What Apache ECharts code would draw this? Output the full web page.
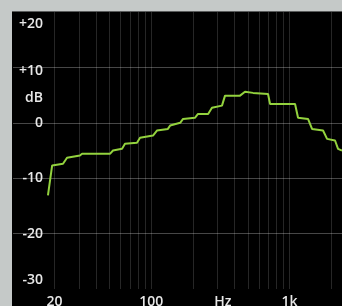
<!DOCTYPE html>
<html lang="en">
<head>
<meta charset="utf-8">
<title>EQ curve</title>
<script src="https://cdn.jsdelivr.net/npm/echarts@6/dist/echarts.min.js"></script>
<style>
  html, body { margin: 0; padding: 0; background: #c5c9c8; }
</style>
</head>
<body>
<div id="main" style="width:342px;height:306px;"></div>
<script type="text/javascript">
    // response curve (Hz, dB)
    var freqs = [17.9, 19.2, 23, 24.6, 30.5, 31.6, 50.3, 52.9, 61.5, 64.6,
                 78.9, 83, 103, 110, 132, 137, 162, 170, 207, 218,
                 258, 275, 325, 342, 439, 477, 545, 700, 724, 1098,
                 1154, 1363, 1457, 1750, 1871, 2137, 2247, 2400];
    var gains = [-13.1, -7.7, -7.4, -6.3, -5.9, -5.6, -5.6, -5.0, -4.7, -3.8,
                 -3.6, -2.7, -2.3, -1.4, -1.1, -0.5, 0, 0.7, 0.9, 1.6,
                 1.6, 2.7, 3.1, 4.9, 4.9, 5.6, 5.4, 5.2, 3.4, 3.4,
                 0.9, 0.7, -1.1, -1.4, -2.9, -3.2, -4.7, -5.0];

    // grid lines
    var gridFreqs = [20, 30, 40, 50, 60, 70, 80, 90, 100, 200, 300, 400, 500, 600, 700, 800, 900, 1000, 2000];
    var gridDb = [-20, -10, 0, 10];

    // tick labels
    var xLabelFreqs = [20, 100, 330, 1000];
    var xLabelTexts = ['20', '100', 'Hz', '1k'];
    var yLabelVals = [-30, -20, -10, 0, 4.5, 10, 20];
    var yLabelTexts = ['{up|-30}', '-20', '-10', '0', 'dB', '{s|+10}', '{dn|+20}'];

    var fMin = 10, fMax = 2400;
    function lg(v) { return Math.log(v) / Math.LN10; }

    var pts = [];
    for (var i = 0; i < freqs.length; i++) {
        pts.push([lg(freqs[i]), gains[i]]);
    }

    var labelFont = { color: '#e8e8e8', fontFamily: 'Open Sans', fontSize: 14, fontWeight: 600 };

    var myChart = echarts.init(document.getElementById('main'));
    var option = {
        backgroundColor: '#000',
        animation: false,
        graphic: [
            { type: 'rect', left: 0, top: 0, shape: { width: 342, height: 11 }, style: { fill: '#c5c9c8' }, z: 100 },
            { type: 'rect', left: 0, top: 11, shape: { width: 342, height: 1 }, style: { fill: '#5a5c5c' }, z: 100 },
            { type: 'rect', left: 0, top: 0, shape: { width: 12, height: 306 }, style: { fill: '#c5c9c8' }, z: 100 }
        ],
        grid: {
            left: 13, right: 0, top: 12, bottom: 17,
            outerBoundsMode: 'none',
            containLabel: false
        },
        xAxis: {
            type: 'value',
            min: lg(fMin),
            max: lg(fMax),
            axisLine: { show: false },
            axisTick: { show: false, customValues: gridFreqs.map(lg) },
            splitLine: { show: true, lineStyle: { color: 'rgba(255,255,255,0.15)', width: 1 } },
            axisLabel: {
                customValues: xLabelFreqs.map(lg),
                margin: 6,
                verticalAlign: 'top',
                color: labelFont.color,
                fontFamily: labelFont.fontFamily,
                fontSize: labelFont.fontSize,
                fontWeight: labelFont.fontWeight,
                formatter: function (v) {
                    for (var k = 0; k < xLabelFreqs.length; k++) {
                        if (Math.abs(lg(xLabelFreqs[k]) - v) < 1e-6) return xLabelTexts[k];
                    }
                    return '';
                }
            }
        },
        yAxis: {
            type: 'value',
            min: -30,
            max: 20,
            axisLine: { show: false },
            axisTick: { show: false, customValues: gridDb },
            splitLine: { show: true, lineStyle: { color: 'rgba(255,255,255,0.28)', width: 1 } },
            axisLabel: {
                customValues: yLabelVals,
                margin: -30,
                color: labelFont.color,
                fontFamily: labelFont.fontFamily,
                fontSize: labelFont.fontSize,
                fontWeight: labelFont.fontWeight,
                formatter: function (v) {
                    for (var k = 0; k < yLabelVals.length; k++) {
                        if (Math.abs(yLabelVals[k] - v) < 1e-6) return yLabelTexts[k];
                    }
                    return '';
                },
                rich: {
                    dn: { padding: [24, 0, 0, 0], color: labelFont.color, fontFamily: labelFont.fontFamily, fontSize: labelFont.fontSize, fontWeight: labelFont.fontWeight },
                    s: { padding: [7, 0, 0, 0], color: labelFont.color, fontFamily: labelFont.fontFamily, fontSize: labelFont.fontSize, fontWeight: labelFont.fontWeight },
                    up: { padding: [0, 0, 18, 0], color: labelFont.color, fontFamily: labelFont.fontFamily, fontSize: labelFont.fontSize, fontWeight: labelFont.fontWeight }
                }
            }
        },
        series: [{
            type: 'line',
            data: pts,
            showSymbol: false,
            symbol: 'none',
            lineStyle: { color: '#93d23e', width: 2 },
            z: 5
        }]
    };

    myChart.setOption(option);
</script>
</body>
</html>
